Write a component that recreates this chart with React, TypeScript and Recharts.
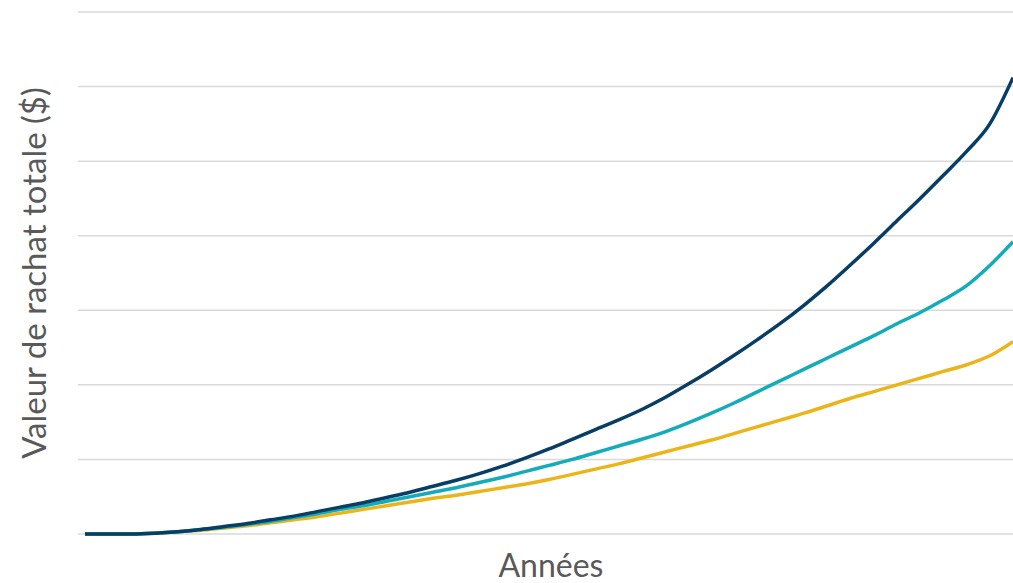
import { LineChart, Line, XAxis, YAxis, CartesianGrid } from 'recharts'

// years 0..40, values in gridline units
const years = Array.from({ length: 41 }, (_, i) => i)

const highReturn = [
  0, 0, 0, 0.01, 0.03, 0.06, 0.1, 0.14, 0.19, 0.24, 0.3, 0.36, 0.42, 0.49, 0.56,
  0.64, 0.72, 0.81, 0.91, 1.02, 1.14, 1.27, 1.4, 1.53, 1.67, 1.83, 2.01, 2.2, 2.4,
  2.61, 2.83, 3.07, 3.33, 3.61, 3.9, 4.2, 4.5, 4.81, 5.13, 5.5, 6.12,
]

const midReturn = [
  0, 0, 0, 0.01, 0.03, 0.06, 0.09, 0.13, 0.17, 0.22, 0.27, 0.33, 0.38, 0.44, 0.5,
  0.56, 0.62, 0.69, 0.76, 0.84, 0.92, 1.0, 1.09, 1.18, 1.27, 1.37, 1.49, 1.62, 1.76,
  1.91, 2.06, 2.21, 2.36, 2.51, 2.66, 2.82, 2.97, 3.14, 3.33, 3.6, 3.92,
]

const lowReturn = [
  0, 0, 0, 0.01, 0.03, 0.05, 0.08, 0.11, 0.15, 0.19, 0.23, 0.28, 0.33, 0.38, 0.43,
  0.48, 0.52, 0.57, 0.62, 0.67, 0.73, 0.8, 0.87, 0.94, 1.02, 1.1, 1.18, 1.26, 1.35,
  1.44, 1.53, 1.62, 1.72, 1.82, 1.91, 2.0, 2.09, 2.18, 2.27, 2.39, 2.58,
]

const yTicks = [0, 1, 2, 3, 4, 5, 6, 7]

const data = years.map((year, i) => ({
  year,
  high: highReturn[i],
  mid: midReturn[i],
  low: lowReturn[i],
}))

const labelFont = 'Lato, "Open Sans", sans-serif'

function YTitle() {
  return (
    <text
      x={46}
      y={273}
      transform="rotate(-90 46 273)"
      textAnchor="middle"
      fontFamily={labelFont}
      fontSize={33}
      fill="#595959"
    >
      Valeur de rachat totale ($)
    </text>
  )
}

function XTitle() {
  return (
    <text x={551} y={577} textAnchor="middle" fontFamily={labelFont} fontSize={32} fill="#595959">
      Années
    </text>
  )
}

export default function App() {
  return (
    <div style={{ position: 'absolute', left: 0, top: 0, background: '#fff' }}>
      <LineChart width={1013} height={583} data={data} margin={{ top: 12, right: 0, bottom: 0, left: 0 }}>
        <CartesianGrid vertical={false} stroke="#d9d9d9" strokeWidth={1.5} />
        <XAxis
          dataKey="year"
          type="number"
          domain={[0, 40]}
          padding={{ left: 7, right: 0 }}
          tickFormatter={() => ''}
          tickLine={false}
          axisLine={false}
          height={49}
          label={<XTitle />}
        />
        <YAxis
          domain={[0, 7]}
          ticks={yTicks}
          width={78}
          tickFormatter={() => ''}
          tickLine={false}
          axisLine={false}
          label={<YTitle />}
        />
        <Line type="monotone" dataKey="low" stroke="#ebb51a" strokeWidth={3.5} dot={false} isAnimationActive={false} />
        <Line type="monotone" dataKey="mid" stroke="#14abba" strokeWidth={3.5} dot={false} isAnimationActive={false} />
        <Line type="monotone" dataKey="high" stroke="#083d66" strokeWidth={3.5} dot={false} isAnimationActive={false} />
      </LineChart>
    </div>
  )
}
